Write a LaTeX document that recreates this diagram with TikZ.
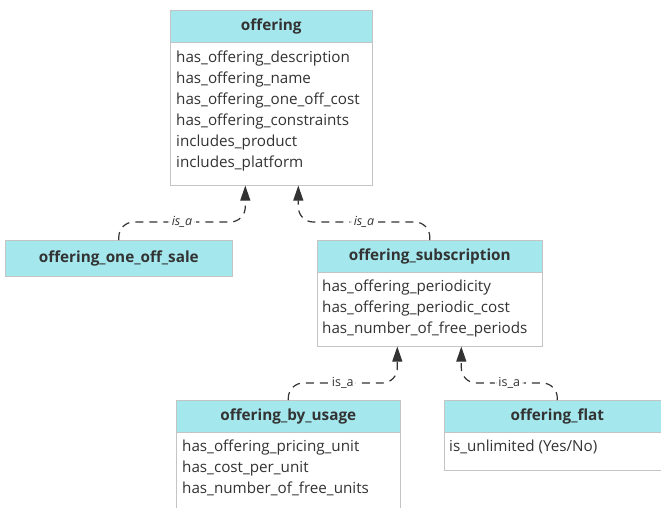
\documentclass[tikz,border=0pt]{standalone}
\usepackage{fontspec}
\setmainfont{Open Sans}
\usetikzlibrary{arrows.meta}
\definecolor{hdr}{HTML}{A4E8EE}
\definecolor{bord}{HTML}{C4C4C4}
\definecolor{ink}{HTML}{333333}
\begin{document}
\begin{tikzpicture}[x=1pt,y=-1pt,
  hdrbox/.style={draw=bord, fill=hdr, line width=0.6pt, anchor=north west, inner sep=0pt, font=\fontsize{15.3}{18}\selectfont\bfseries, text=ink},
  bodybox/.style={draw=bord, fill=white, line width=0.6pt, anchor=north west, inner sep=0pt},
  attrs/.style={anchor=north west, inner sep=0pt, align=left, text=ink, font=\fontsize{15.2}{21}\selectfont},
  isa/.style={draw=ink, line width=1.2pt, dash pattern=on 8pt off 6pt, rounded corners=15pt, -{Triangle[length=15pt,width=10pt]}},
  isalbl/.style={fill=white, inner sep=3.5pt, text=ink, font=\fontsize{12.5}{14}\selectfont}
]
\useasboundingbox (0,0) rectangle (661,508);
\clip (0,0) rectangle (661,508);
% offering
\node[bodybox, minimum width=202pt, minimum height=143pt] (offb) at (170,42) {};
\node[hdrbox, minimum width=202pt, minimum height=32pt] (offh) at (170,10) {offering};
\node[attrs] (offt) at (176,51) {has\_offering\_description\\has\_offering\_name\\has\_offering\_one\_off\_cost\\has\_offering\_constraints\\includes\_product\\includes\_platform};
% one off sale
\node[hdrbox, minimum width=227pt, minimum height=36pt] (oneoff) at (5,240) {offering\_one\_off\_sale};
% subscription
\node[bodybox, minimum width=225pt, minimum height=74pt] (subb) at (317,272) {};
\node[hdrbox, minimum width=225pt, minimum height=32pt] (subh) at (317,240) {offering\_subscription};
\node[attrs] (subt) at (322,280) {has\_offering\_periodicity\\has\_offering\_periodic\_cost\\has\_number\_of\_free\_periods};
% by usage
\node[bodybox, minimum width=224pt, minimum height=90pt] (useb) at (176,432) {};
\node[hdrbox, minimum width=224pt, minimum height=32pt] (useh) at (176,400) {offering\_by\_usage};
\node[attrs] (uset) at (182,440) {has\_offering\_pricing\_unit\\has\_cost\_per\_unit\\has\_number\_of\_free\_units};
% flat
\node[bodybox, minimum width=226pt, minimum height=38pt] (flatb) at (444,432) {};
\node[hdrbox, minimum width=226pt, minimum height=32pt] (flath) at (444,400) {offering\_flat};
\node[attrs] (flatt) at (449,440) {is\_unlimited (Yes/No)};
% connectors
\draw[isa] (oneoff.north) -- ++(0,-18) -| node[isalbl,pos=0.25]{\itshape is\_a} ([xshift=-26pt]offb.south);
\draw[isa] (subh.north) -- ++(0,-18) -| node[isalbl,pos=0.25]{\itshape is\_a} ([xshift=27pt]offb.south);
\draw[isa] (useh.north) -- ++(0,-17) -| node[isalbl,pos=0.25]{is\_a} ([xshift=-32.5pt]subb.south);
\draw[isa] (flath.north) -- ++(0,-17) -| node[isalbl,pos=0.25]{is\_a} ([xshift=31.5pt]subb.south);
\end{tikzpicture}
\end{document}
